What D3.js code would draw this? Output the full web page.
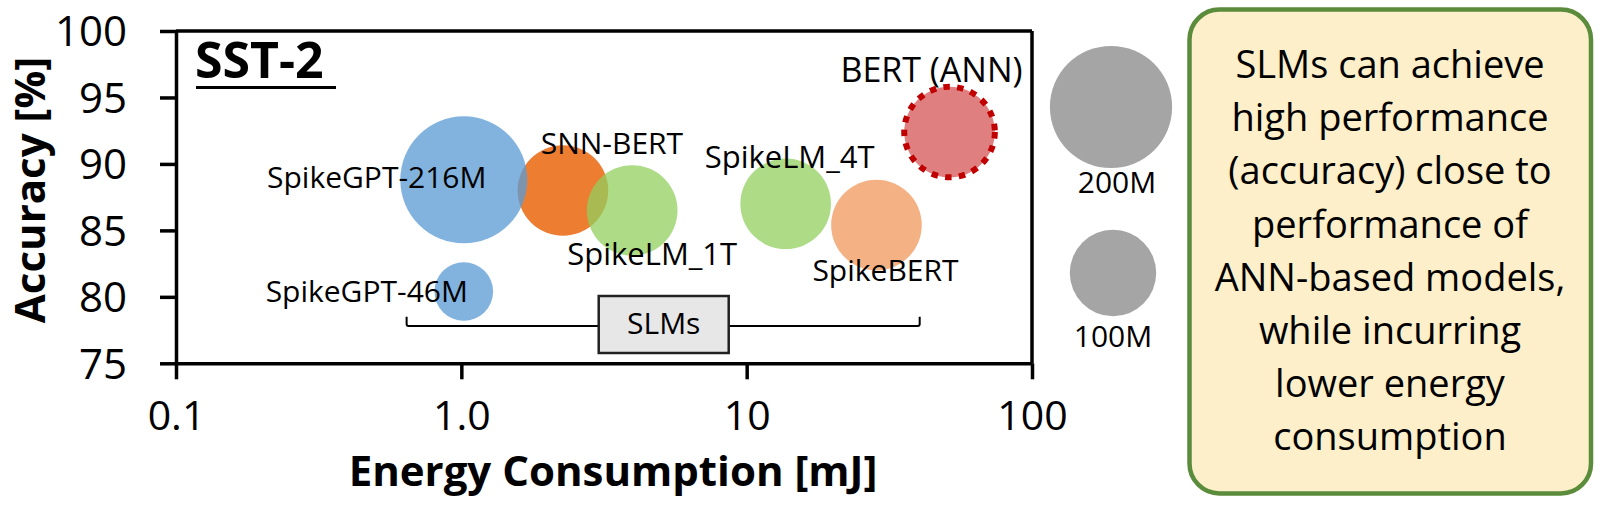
<!DOCTYPE html>
<html>
<head>
<meta charset="utf-8">
<script src="https://cdn.jsdelivr.net/npm/d3@7"></script>
<style>
  html, body { margin: 0; padding: 0; background: #ffffff; }
  svg { display: block; }
  text { font-family: "Open Sans", "Noto Sans", sans-serif; fill: #000; }
</style>
</head>
<body>
<svg id="chart" width="1600" height="506"></svg>
<script>
// ---------------- data ----------------
const models   = ["SNN-BERT", "SpikeGPT-216M", "SpikeGPT-46M", "SpikeLM_1T", "SpikeLM_4T", "SpikeBERT", "BERT (ANN)"];
const energy   = [2.27, 1.02, 1.02, 3.97, 13.7, 28.5, 51.4];       // mJ
const accuracy = [88.0, 88.8, 80.4, 86.5, 87.0, 85.4, 92.4];       // %
const params   = [110, 216, 46, 110, 110, 110, 110];               // M parameters
const isANN    = [false, false, false, false, false, false, true];

const xTickValues = [0.1, 1, 10, 100];
const xTickLabels = ["0.1", "1.0", "10", "100"];
const yTickValues = [75, 80, 85, 90, 95, 100];

const legendSizes  = [200, 100];
const legendLabels = ["200M", "100M"];

const datasetName = "SST-2";
const slmsLabel = "SLMs";
const slmsRange = [0.643, 40.4];
const noteLines = ["SLMs can achieve", "high performance", "(accuracy) close to",
                   "performance of", "ANN-based models,", "while incurring",
                   "lower energy", "consumption"];

// ---------------- styles ----------------
const fillColor   = ["#ED7D31", "#5B9BD5", "#5B9BD5", "#92CF5E", "#92CF5E", "#ED7D31", "#C00000"];
const fillOpacity = [1.0, 0.76, 0.76, 0.75, 0.75, 0.6, 0.5];
// label offsets from bubble centre (text centre x, baseline y)
const labelDx = [49, -87, -97, 20, 4, 9, -18];
const labelDy = [-37, 8, 10, 55, -36, 56, -50];
const labelSize = [30, 30, 30, 31, 31, 30, 34];

const svg = d3.select("#chart");

const x = d3.scaleLog().domain([0.1, 100]).range([176, 1032]);
const y = d3.scaleLinear().domain([75, 100]).range([363.3, 31]);
const r = d3.scaleSqrt().domain([0, 216]).range([0, 63.5]);

const axisW = 3.5;

// ---------------- bubbles ----------------
const data = models.map((m, i) => ({
  name: m, e: energy[i], a: accuracy[i], p: params[i], ann: isANN[i],
  fill: fillColor[i], op: fillOpacity[i], dx: labelDx[i], dy: labelDy[i], fs: labelSize[i]
}));

const bubbles = svg.append("g");
bubbles.selectAll("circle").data(data).enter().append("circle")
  .attr("cx", d => x(d.e))
  .attr("cy", d => y(d.a))
  .attr("r", d => r(d.p))
  .attr("fill", d => d.fill)
  .attr("fill-opacity", d => d.op)
  .attr("stroke", d => d.ann ? "#C00000" : "none")
  .attr("stroke-width", d => d.ann ? 6 : 0)
  .attr("stroke-dasharray", d => d.ann ? "6.5 7.3" : null);

// ---------------- axes ----------------
const xAxis = svg.append("g")
  .attr("transform", `translate(0,${y(75)})`)
  .call(d3.axisBottom(x).tickValues(xTickValues)
        .tickFormat((d, i) => xTickLabels[i]).tickSize(16).tickSizeOuter(0));
xAxis.select(".domain").attr("stroke", "#000").attr("stroke-width", axisW);
xAxis.selectAll(".tick line").attr("stroke", "#000").attr("stroke-width", axisW);
xAxis.selectAll(".tick text")
  .attr("y", 67).attr("dy", 0)
  .attr("font-size", 41).attr("font-family", "Open Sans").attr("fill", "#000");

const yAxis = svg.append("g")
  .attr("transform", `translate(${x(0.1)},0)`)
  .call(d3.axisLeft(y).tickValues(yTickValues).tickSize(16).tickSizeOuter(0));
yAxis.select(".domain").attr("stroke", "#000").attr("stroke-width", axisW);
yAxis.selectAll(".tick line").attr("stroke", "#000").attr("stroke-width", axisW);
yAxis.selectAll(".tick text")
  .attr("x", -49).attr("dy", "0.35em")
  .attr("font-size", 42).attr("font-family", "Open Sans").attr("fill", "#000");

// top and right frame
svg.append("line")
  .attr("x1", x(0.1)).attr("x2", x(100)).attr("y1", y(100)).attr("y2", y(100))
  .attr("stroke", "#000").attr("stroke-width", axisW);
svg.append("line")
  .attr("x1", x(100)).attr("x2", x(100)).attr("y1", y(100)).attr("y2", y(75))
  .attr("stroke", "#000").attr("stroke-width", axisW);

// axis titles
svg.append("text")
  .attr("x", 613).attr("y", 486)
  .attr("text-anchor", "middle")
  .attr("font-size", 42).attr("font-weight", "bold")
  .text("Energy Consumption [mJ]");

svg.append("text")
  .attr("transform", "translate(45,190) rotate(-90)")
  .attr("text-anchor", "middle")
  .attr("font-size", 42).attr("font-weight", "bold")
  .text("Accuracy [%]");

// dataset name
svg.append("text")
  .attr("x", 195).attr("y", 78)
  .attr("font-size", 50).attr("font-weight", "bold")
  .text(datasetName);
svg.append("line")
  .attr("x1", 196).attr("x2", 336).attr("y1", 87.5).attr("y2", 87.5)
  .attr("stroke", "#000").attr("stroke-width", 3);

// ---------------- SLMs bracket ----------------
const bx0 = x(slmsRange[0]), bx1 = x(slmsRange[1]);
const boxCx = x(5.12);
const lineY = 326, hookY = 316.7;
const boxW = 130, boxH = 57;
const br = svg.append("g");
br.append("path")
  .attr("d", `M${bx0},${hookY} L${bx0},${lineY - 2} Q${bx0},${lineY} ${bx0 + 2},${lineY} L${boxCx - boxW / 2},${lineY}`)
  .attr("fill", "none").attr("stroke", "#000").attr("stroke-width", 2);
br.append("path")
  .attr("d", `M${boxCx + boxW / 2},${lineY} L${bx1 - 2},${lineY} Q${bx1},${lineY} ${bx1},${lineY - 2} L${bx1},${hookY}`)
  .attr("fill", "none").attr("stroke", "#000").attr("stroke-width", 2);
br.append("rect")
  .attr("x", boxCx - boxW / 2).attr("y", 296).attr("width", boxW).attr("height", boxH)
  .attr("fill", "#E7E7E7").attr("stroke", "#222").attr("stroke-width", 2.5);
br.append("text")
  .attr("x", boxCx).attr("y", 334)
  .attr("text-anchor", "middle").attr("font-size", 30)
  .text(slmsLabel);

// ---------------- bubble labels ----------------
svg.append("g").selectAll("text").data(data).enter().append("text")
  .attr("x", d => x(d.e) + d.dx)
  .attr("y", d => y(d.a) + d.dy)
  .attr("text-anchor", "middle")
  .attr("font-size", d => d.fs)
  .text(d => d.name);

// ---------------- size legend ----------------
const legend = svg.append("g").attr("transform", "translate(1111,0)");
const legendCy = [107, 273];
const legendLy = [193, 347];
legend.selectAll("circle").data(legendSizes).enter().append("circle")
  .attr("cx", (d, i) => i === 0 ? 0 : 2)
  .attr("cy", (d, i) => legendCy[i])
  .attr("r", d => r(d))
  .attr("fill", "#A5A5A5");
legend.selectAll("text").data(legendLabels).enter().append("text")
  .attr("x", (d, i) => i === 0 ? 6 : 2)
  .attr("y", (d, i) => legendLy[i])
  .attr("text-anchor", "middle")
  .attr("font-size", 30)
  .text(d => d);

// ---------------- note box ----------------
const note = svg.append("g");
note.append("rect")
  .attr("x", 1189.5).attr("y", 9.5).attr("width", 401.5).attr("height", 484)
  .attr("rx", 30).attr("ry", 30)
  .attr("fill", "#FCEFC9").attr("stroke", "#5B8C3B").attr("stroke-width", 4.5);
note.selectAll("text").data(noteLines).enter().append("text")
  .attr("x", 1390)
  .attr("y", (d, i) => 78 + i * 53.2)
  .attr("text-anchor", "middle")
  .attr("font-size", 38)
  .text(d => d);
</script>
</body>
</html>
